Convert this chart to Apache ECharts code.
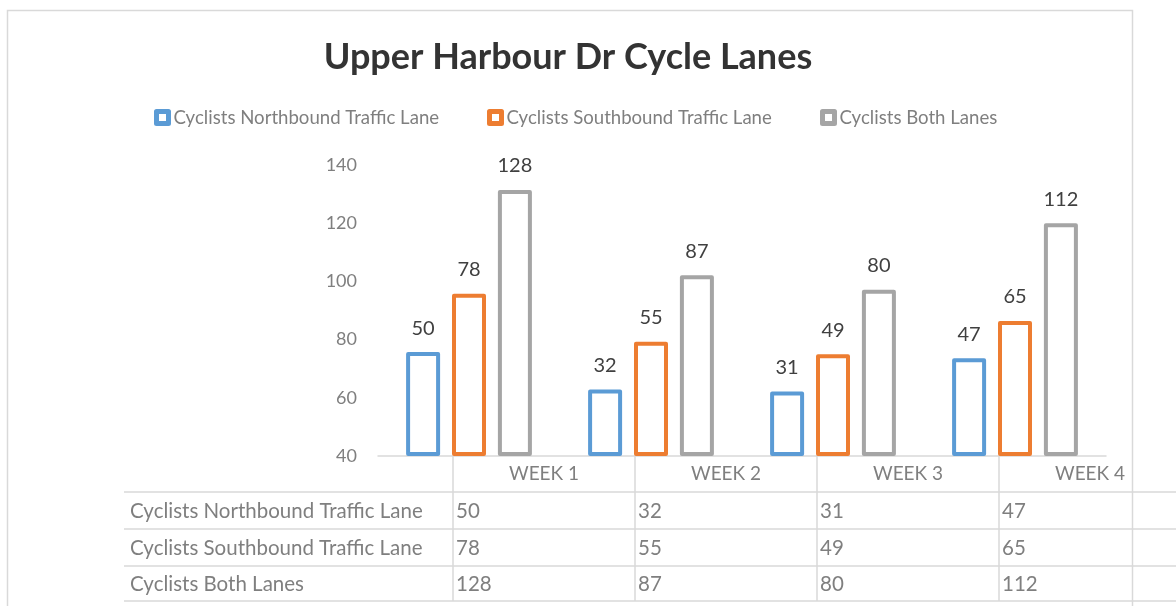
<!DOCTYPE html>
<html>
<head>
<meta charset="utf-8">
<style>
  html, body { margin: 0; padding: 0; background: #fff; }
  #chart { width: 1176px; height: 606px; }
</style>
<script src="https://cdn.jsdelivr.net/npm/echarts@6/dist/echarts.min.js"></script>
</head>
<body>
<div id="chart"></div>
<script>
// data
const weeks = ['WEEK 1', 'WEEK 2', 'WEEK 3', 'WEEK 4'];
const seriesNames = ['Cyclists Northbound Traffic Lane', 'Cyclists Southbound Traffic Lane', 'Cyclists Both Lanes'];
const northbound = [50, 32, 31, 47];
const southbound = [78, 55, 49, 65];
const bothLanes = [128, 87, 80, 112];
// printed axis runs 40..140, bars are measured from 0 on a 0..140 scale
const axisMin = 40;
const axisMax = 140;
const axisStep = 20;
const barScaleMax = 140;

const colors = ['#5B9BD5', '#ED7D31', '#A5A5A5'];
const values = [northbound, southbound, bothLanes];
const font = 'Lato, "Open Sans", sans-serif';
const gridLine = '#d9d9d9';
const textGray = '#7f7f7f';

// table geometry
const tableLeft = 124;
const colStart = 453;
const colWidth = 182;
const rowLines = [492, 529, 566, 601];
const headerY = 474;

const graphic = [];
// outer chart border
graphic.push({
    type: 'rect', silent: true,
    shape: { x: 7.5, y: 10.5, width: 1125, height: 640 },
    style: { fill: 'none', stroke: gridLine, lineWidth: 1.5 }
});
// horizontal table lines
rowLines.forEach(function (y) {
    graphic.push({
        type: 'line', silent: true,
        shape: { x1: tableLeft, y1: y, x2: 1176, y2: y },
        style: { stroke: gridLine, lineWidth: 1.5 }
    });
});
// vertical table lines + header labels
weeks.forEach(function (w, i) {
    const x = colStart + i * colWidth;
    graphic.push({
        type: 'line', silent: true,
        shape: { x1: x, y1: 456, x2: x, y2: 601 },
        style: { stroke: gridLine, lineWidth: 1.5 }
    });
    graphic.push({
        type: 'text', silent: true,
        x: x + colWidth / 2, y: headerY,
        style: { text: w, fill: textGray, font: '19px ' + font, align: 'center', verticalAlign: 'middle' }
    });
});
// row labels and cell values
seriesNames.forEach(function (name, r) {
    const cy = (rowLines[r] + rowLines[r + 1]) / 2 + 0.5;
    graphic.push({
        type: 'text', silent: true,
        x: 130, y: cy,
        style: { text: name, fill: textGray, font: '20.5px ' + font, verticalAlign: 'middle' }
    });
    values[r].forEach(function (v, i) {
        graphic.push({
            type: 'text', silent: true,
            x: colStart + i * colWidth + 3, y: cy,
            style: { text: String(v), fill: textGray, font: '20.5px ' + font, verticalAlign: 'middle' }
        });
    });
});

const legendLefts = [154, 487, 820];

const option = {
    animation: false,
    textStyle: { fontFamily: font },
    title: {
        text: 'Upper Harbour Dr Cycle Lanes',
        left: 563,
        top: 34,
        textAlign: 'center',
        textStyle: { fontSize: 36, fontWeight: 'bold', color: '#333333', fontFamily: font }
    },
    legend: seriesNames.map(function (name, i) {
        return {
            left: legendLefts[i],
            top: 108,
            padding: 0,
            itemWidth: 12,
            itemHeight: 12,
            itemGap: 0,
            textStyle: { fontSize: 18.6, color: textGray, fontFamily: font },
            data: [{
                name: name,
                icon: 'rect',
                itemStyle: { color: '#fff', borderColor: colors[i], borderWidth: 5 }
            }]
        };
    }),
    grid: { left: 378, width: 728, top: 165, height: 291 },
    xAxis: {
        type: 'category',
        data: weeks,
        axisLine: { lineStyle: { color: gridLine, width: 1.5 } },
        axisTick: { show: false },
        axisLabel: { show: false }
    },
    yAxis: [
        {
            type: 'value',
            min: axisMin,
            max: axisMax,
            interval: axisStep,
            axisLine: { show: false },
            axisTick: { show: false },
            splitLine: { show: false },
            axisLabel: { color: textGray, fontSize: 18, margin: 21, fontFamily: font }
        },
        {
            type: 'value',
            min: 0,
            max: barScaleMax,
            show: false,
            splitLine: { show: false }
        }
    ],
    series: seriesNames.map(function (name, i) {
        return {
            name: name,
            type: 'bar',
            yAxisIndex: 1,
            data: values[i],
            barWidth: 34,
            barGap: '35%',
            itemStyle: { color: '#fff', borderColor: colors[i], borderWidth: 4, borderJoin: 'round' },
            label: {
                show: true,
                position: 'top',
                distance: 14,
                color: '#404040',
                fontSize: 20,
                fontFamily: font
            }
        };
    }),
    graphic: graphic
};

const chart = echarts.init(document.getElementById('chart'));
chart.setOption(option);
</script>
</body>
</html>
